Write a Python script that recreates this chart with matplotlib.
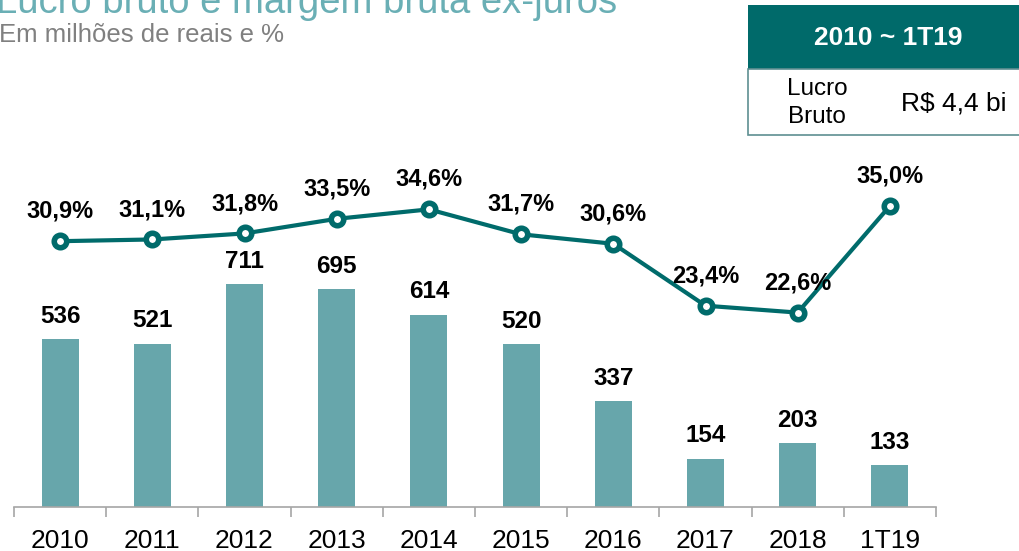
import matplotlib.pyplot as plt
from matplotlib.patches import Rectangle

plt.rcParams['font.family'] = ['Liberation Sans', 'DejaVu Sans']

# Data
categories = ['2010', '2011', '2012', '2013', '2014', '2015', '2016', '2017', '2018', '1T19']
lucro_bruto = [536, 521, 711, 695, 614, 520, 337, 154, 203, 133]
margem_bruta = [30.9, 31.1, 31.8, 33.5, 34.6, 31.7, 30.6, 23.4, 22.6, 35.0]
margem_labels = ['30,9%', '31,1%', '31,8%', '33,5%', '34,6%', '31,7%', '30,6%', '23,4%', '22,6%', '35,0%']

bar_color = '#67A6AB'
line_color = '#006B6B'
W, H = 1020, 551

fig = plt.figure(figsize=(W / 100, H / 100), dpi=100)
ax = fig.add_axes([14 / W, (H - 507) / H, (936 - 14) / W, (507 - 150) / H])
x = list(range(len(categories)))

ax.bar(x, lucro_bruto, width=0.4, color=bar_color, zorder=2)
ax.set_xlim(-0.5, len(categories) - 0.5)
ax.set_ylim(0, 1140)
for xi, v in zip(x, lucro_bruto):
    ax.annotate(str(v), (xi, v), xytext=(0, 16.5), textcoords='offset points',
                ha='center', va='center', fontsize=17.5, fontweight='bold', color='black')

# axis styling
for s in ['top', 'left', 'right']:
    ax.spines[s].set_visible(False)
ax.spines['bottom'].set_color('#A6A6A6')
ax.spines['bottom'].set_linewidth(1.2)
ax.set_yticks([])
ax.set_xticks(x)
ax.set_xticklabels(categories, fontsize=19)
ax.tick_params(axis='x', which='major', length=0, pad=15.5)
ax.set_xticks([i - 0.5 for i in range(len(categories) + 1)], minor=True)
ax.tick_params(axis='x', which='minor', length=7, width=1.2, color='#A6A6A6')

ax2 = ax.twinx()
ax2.set_ylim(0, 41.5)
ax2.plot(x, margem_bruta, color=line_color, lw=3, marker='o', ms=9, mew=4,
         mfc='white', mec=line_color, zorder=3)
for xi, v, lab in zip(x, margem_bruta, margem_labels):
    ax2.annotate(lab, (xi, v), xytext=(0, 21.5), textcoords='offset points',
                 ha='center', va='center', fontsize=17, fontweight='bold', color='black')
ax2.axis('off')

# title and subtitle (title cut off at top)
fig.text(-4 / W, 1 - 13 / H, 'Lucro bruto e margem bruta ex-juros', fontsize=27.5,
         color='#6AAFB5', ha='left', va='baseline')
fig.text(-1 / W, 1 - 42 / H, 'Em milhões de reais e %', fontsize=18.5,
         color='#808080', ha='left', va='baseline')

# summary box
fig.patches.append(Rectangle((748 / W, 1 - 69 / H), (W - 748) / W, 64 / H,
                             transform=fig.transFigure, facecolor='#006A6A',
                             edgecolor='none'))
fig.patches.append(Rectangle((748 / W, 1 - 135 / H), (W - 748 + 5) / W, 66 / H,
                             transform=fig.transFigure, facecolor='white',
                             edgecolor='#5E8F91', lw=1.2))
fig.text(888 / W, 1 - 38 / H, '2010 ~ 1T19', fontsize=19, fontweight='bold',
         color='white', ha='center', va='center')
fig.text(817 / W, 1 - 103 / H, 'Lucro\nBruto', fontsize=17.5, color='black',
         ha='center', va='center', linespacing=1.3)
fig.text(954 / W, 1 - 103 / H, 'R$ 4,4 bi', fontsize=19, color='black',
         ha='center', va='center')

fig.savefig('out.png', dpi=100)
